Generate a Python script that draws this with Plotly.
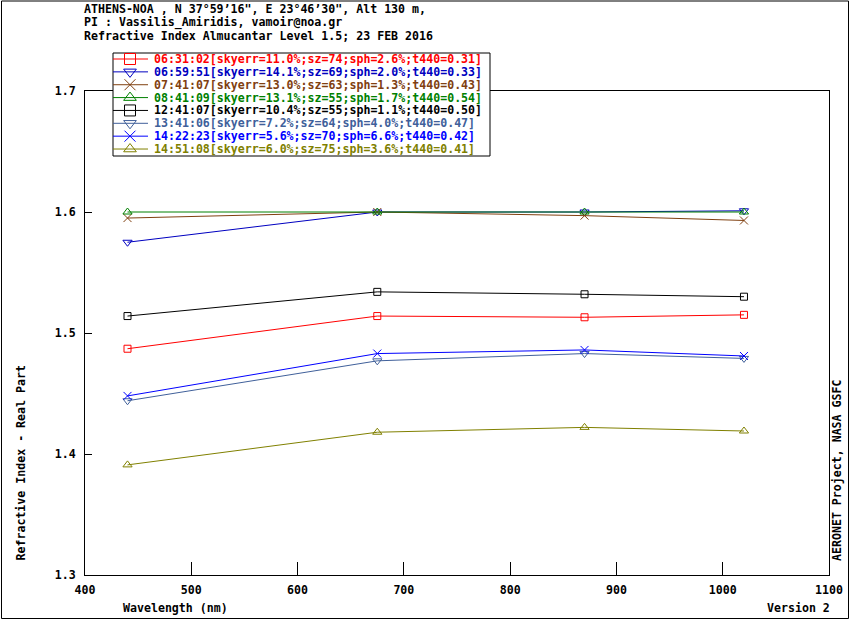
import plotly.graph_objects as go

# AERONET almucantar refractive index (real part), Athens-NOA, 23 Feb 2016
wavelengths = [440, 675, 870, 1020]

labels = [
    "06:31:02[skyerr=11.0%;sz=74;sph=2.6%;t440=0.31]",
    "06:59:51[skyerr=14.1%;sz=69;sph=2.0%;t440=0.33]",
    "07:41:07[skyerr=13.0%;sz=63;sph=1.3%;t440=0.43]",
    "08:41:09[skyerr=13.1%;sz=55;sph=1.7%;t440=0.54]",
    "12:41:07[skyerr=10.4%;sz=55;sph=1.1%;t440=0.50]",
    "13:41:06[skyerr=7.2%;sz=64;sph=4.0%;t440=0.47]",
    "14:22:23[skyerr=5.6%;sz=70;sph=6.6%;t440=0.42]",
    "14:51:08[skyerr=6.0%;sz=75;sph=3.6%;t440=0.41]",
]

ri_0631 = [1.487, 1.514, 1.513, 1.515]
ri_0659 = [1.575, 1.600, 1.600, 1.601]
ri_0741 = [1.595, 1.600, 1.597, 1.593]
ri_0841 = [1.600, 1.600, 1.600, 1.600]
ri_1241 = [1.514, 1.534, 1.532, 1.530]
ri_1341 = [1.444, 1.477, 1.483, 1.479]
ri_1422 = [1.448, 1.483, 1.486, 1.481]
ri_1451 = [1.391, 1.418, 1.422, 1.419]
series = [ri_0631, ri_0659, ri_0741, ri_0841, ri_1241, ri_1341, ri_1422, ri_1451]

colors = ["#ff0000", "#0000c0", "#804010", "#008000",
          "#000000", "#40609a", "#0000ff", "#808000"]
symbols = ["square-open", "triangle-down-open", "x-thin-open", "triangle-up-open",
           "square-open", "triangle-down-open", "x-thin-open", "triangle-up-open"]
sizes = [7, 8, 8, 8, 7, 8, 8, 8]

y_ticks = [1.3, 1.4, 1.5, 1.6, 1.7]
x_ticks = [400, 500, 600, 700, 800, 900, 1000, 1100]

title_lines = [
    "ATHENS-NOA , N 37\u00b059\u201916\", E 23\u00b046\u201930\", Alt 130 m,",
    "PI : Vassilis_Amiridis, vamoir@noa.gr",
    "Refractive Index Almucantar Level 1.5; 23 FEB 2016",
]

W, H = 850, 620
FONT = dict(family="DejaVu Sans Mono", size=11.6, color="black", weight="bold")

# plot frame in pixels
L, R, T, B = 85, 829, 91, 575
# legend box in pixels
LG_L, LG_R, LG_T, LG_B = 113, 490, 53, 156
ROW0, ROW_H = 59, 12.86


def px(x):
    return x / W


def py(y):
    return 1 - y / H


fig = go.Figure()

for vals, lab, col, sym, sz in zip(series, labels, colors, symbols, sizes):
    fig.add_trace(go.Scatter(
        x=wavelengths, y=vals, mode="lines+markers", name=lab,
        line=dict(color=col, width=1),
        marker=dict(symbol=sym, size=sz, color=col, line=dict(color=col, width=1)),
        xaxis="x", yaxis="y", showlegend=False))

# hand-made legend on an overlay pixel axis
fig.add_trace(go.Scatter(
    x=[LG_L, LG_R, LG_R, LG_L, LG_L], y=[LG_T, LG_T, LG_B, LG_B, LG_T],
    mode="lines", fill="toself", fillcolor="white",
    line=dict(color="black", width=1), xaxis="x2", yaxis="y2",
    showlegend=False, hoverinfo="skip"))

for i, (lab, col, sym) in enumerate(zip(labels, colors, symbols)):
    ry = ROW0 + i * ROW_H
    fig.add_trace(go.Scatter(
        x=[LG_L, LG_L + 35], y=[ry, ry], mode="lines",
        line=dict(color=col, width=1), xaxis="x2", yaxis="y2",
        showlegend=False, hoverinfo="skip"))
    fig.add_trace(go.Scatter(
        x=[LG_L + 17], y=[ry], mode="markers",
        marker=dict(symbol=sym, size=11, color=col, line=dict(color=col, width=1)),
        xaxis="x2", yaxis="y2", showlegend=False, hoverinfo="skip"))
    fig.add_annotation(x=px(LG_L + 39), y=py(ry), xref="paper", yref="paper",
                       text=lab, showarrow=False, xanchor="left", yanchor="middle",
                       font=dict(FONT, color=col))

for i, line in enumerate(title_lines):
    fig.add_annotation(x=px(82), y=py(9 + i * 13.5), xref="paper", yref="paper",
                       text=line, showarrow=False, xanchor="left", yanchor="middle",
                       font=FONT)

fig.add_annotation(x=px(20), y=py(563), xref="paper", yref="paper",
                   text="Refractive Index - Real Part", textangle=-90,
                   showarrow=False, xanchor="center", yanchor="bottom", font=FONT)
fig.add_annotation(x=px(837), y=py(563), xref="paper", yref="paper",
                   text="AERONET Project, NASA GSFC", textangle=-90,
                   showarrow=False, xanchor="center", yanchor="bottom", font=FONT)
fig.add_annotation(x=px(121), y=py(608), xref="paper", yref="paper",
                   text="Wavelength (nm)", showarrow=False,
                   xanchor="left", yanchor="middle", font=FONT)
fig.add_annotation(x=px(832), y=py(608), xref="paper", yref="paper",
                   text="Version 2", showarrow=False,
                   xanchor="right", yanchor="middle", font=FONT)

# outer border of the image
fig.add_shape(type="rect", xref="paper", yref="paper",
              x0=px(1.5), x1=px(848.5), y0=py(618.5), y1=py(1),
              line=dict(color="black", width=1))

fig.update_layout(
    width=W, height=H,
    margin=dict(l=0, r=0, t=0, b=0, pad=0, autoexpand=False),
    paper_bgcolor="white", plot_bgcolor="rgba(0,0,0,0)",
    font=FONT,
    showlegend=False,
    xaxis=dict(domain=[px(L), px(R)], range=[400, 1100], tickvals=x_ticks,
               ticks="inside", ticklen=13, tickwidth=1, tickcolor="black",
               showline=True, linecolor="black", linewidth=1, mirror=True,
               showgrid=False, zeroline=False, ticklabelstandoff=4,
               anchor="y"),
    yaxis=dict(domain=[py(B), py(T)], range=[1.3, 1.7], tickvals=y_ticks,
               tickformat=".1f",
               ticks="inside", ticklen=7, tickwidth=1, tickcolor="black",
               showline=True, linecolor="black", linewidth=1, mirror=True,
               showgrid=False, zeroline=False, ticklabelstandoff=6,
               anchor="x"),
    xaxis2=dict(domain=[0, 1], range=[0, W], visible=False, fixedrange=True,
                anchor="y2"),
    yaxis2=dict(domain=[0, 1], range=[H, 0], visible=False, fixedrange=True,
                anchor="x2"),
)

# the page body has a default 8px margin; drop it so the figure fills the window
fig.write_html("out.html", config={"displayModeBar": False},
               post_script="document.body.style.margin = '0';")
